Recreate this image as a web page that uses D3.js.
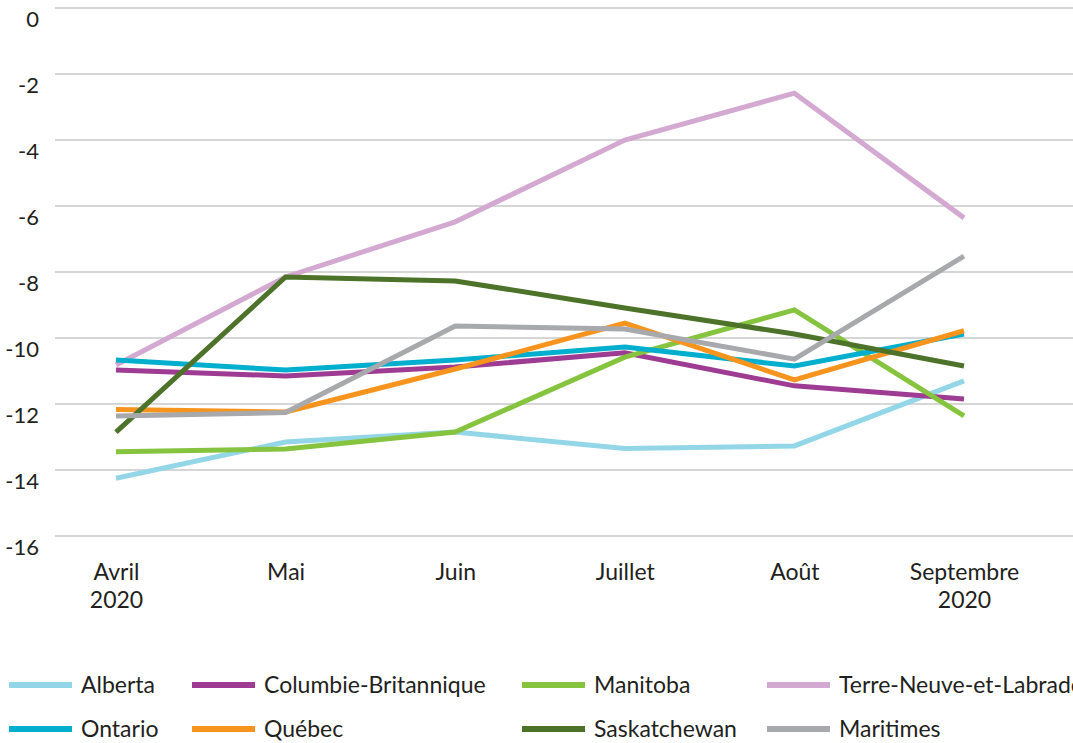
<!DOCTYPE html>
<html>

<head>
  <script src="https://d3js.org/d3.v7.min.js"></script>
  <style>
    body {
      margin: 0;
      background: #fff;
      font-family: Lato, "Open Sans", sans-serif;
    }

    .line {
      fill: none;
      stroke-width: 5;
      stroke-linejoin: miter;
    }

    text {
      fill: #231f20;
    }
  </style>
</head>

<body>
  <script>
    // catégories (mois) et étiquettes
    const months = ["Avril", "Mai", "Juin", "Juillet", "Août", "Septembre"];
    const monthLabels = [["Avril", "2020"], ["Mai"], ["Juin"], ["Juillet"], ["Août"], ["Septembre", "2020"]];
    const yTicks = [0, -2, -4, -6, -8, -10, -12, -14, -16];

    // séries
    const regions = ["Alberta", "Columbie-Britannique", "Manitoba", "Terre-Neuve-et-Labrador",
      "Ontario", "Québec", "Saskatchewan", "Maritimes"];
    const colors = ["#93d6e7", "#9d3c92", "#86c440", "#d3a9d1",
      "#00aecd", "#f7941e", "#4d732a", "#a8a9ad"];

    const alberta = [-14.25, -13.15, -12.85, -13.35, -13.27, -11.3];
    const colombie = [-10.97, -11.15, -10.88, -10.45, -11.45, -11.85];
    const manitoba = [-13.45, -13.36, -12.85, -10.58, -9.15, -12.36];
    const terreNeuve = [-10.82, -8.15, -6.48, -4.0, -2.58, -6.36];
    const ontario = [-10.67, -10.97, -10.67, -10.27, -10.85, -9.88];
    const quebec = [-12.17, -12.24, -10.94, -9.55, -11.27, -9.78];
    const saskatchewan = [-12.85, -8.15, -8.27, -9.09, -9.88, -10.85];
    const maritimes = [-12.36, -12.26, -9.64, -9.73, -10.64, -7.52];

    const series = [alberta, colombie, manitoba, terreNeuve, ontario, quebec, saskatchewan, maritimes];

    const width = 1073;
    const height = 743;

    const svg = d3.select("body")
      .append("svg")
      .attr("width", width)
      .attr("height", height);

    const x = d3.scalePoint()
      .domain(months)
      .range([116, 964]);

    const y = d3.scaleLinear()
      .domain([-16, 0])
      .range([536, 8]);

    // grille
    svg.append("g")
      .selectAll("line")
      .data(yTicks)
      .enter()
      .append("line")
      .attr("x1", 55)
      .attr("x2", width)
      .attr("y1", d => y(d))
      .attr("y2", d => y(d))
      .attr("stroke", "#c8c8c8")
      .attr("stroke-width", 1.5);

    // axe y (tiret simple, pas de signe moins unicode)
    const yAxis = svg.append("g")
      .attr("transform", "translate(39,0)")
      .call(d3.axisLeft(y).tickValues(yTicks).tickSize(0).tickPadding(0).tickFormat(d => String(d)));
    yAxis.select(".domain").remove();
    yAxis.selectAll("text")
      .attr("font-size", 22)
      .attr("font-family", "Lato, sans-serif")
      .attr("fill", "#231f20")
      .attr("y", 18)
      .attr("dy", 0);

    // axe x
    const xAxis = svg.append("g")
      .attr("transform", "translate(0,580)")
      .call(d3.axisBottom(x).tickSize(0).tickFormat(""));
    xAxis.select(".domain").remove();
    xAxis.selectAll(".tick")
      .data(monthLabels)
      .select("text")
      .attr("font-size", 23)
      .attr("font-family", "Lato, sans-serif")
      .attr("fill", "#231f20")
      .attr("y", 0)
      .attr("dy", 0)
      .selectAll("tspan")
      .data(d => d)
      .enter()
      .append("tspan")
      .attr("x", 0)
      .attr("dy", (d, i) => i === 0 ? 0 : 28)
      .text(d => d);

    // lignes
    const line = d3.line()
      .x((d, i) => x(months[i]))
      .y(d => y(d));

    svg.append("g")
      .selectAll("path")
      .data(series)
      .enter()
      .append("path")
      .attr("class", "line")
      .attr("d", line)
      .attr("stroke", (d, i) => colors[i]);

    // légende
    const legendCols = [9, 192, 522, 767];
    const legendRows = [685, 729];

    const legend = svg.append("g")
      .selectAll("g")
      .data(regions)
      .enter()
      .append("g")
      .attr("transform", (d, i) => `translate(${legendCols[i % 4]},${legendRows[Math.floor(i / 4)]})`);

    legend.append("rect")
      .attr("x", 0)
      .attr("y", -3)
      .attr("width", 63)
      .attr("height", 6)
      .attr("fill", (d, i) => colors[i]);

    legend.append("text")
      .attr("x", 72)
      .attr("y", 7.5)
      .attr("font-size", 23)
      .text(d => d);
  </script>
</body>

</html>
